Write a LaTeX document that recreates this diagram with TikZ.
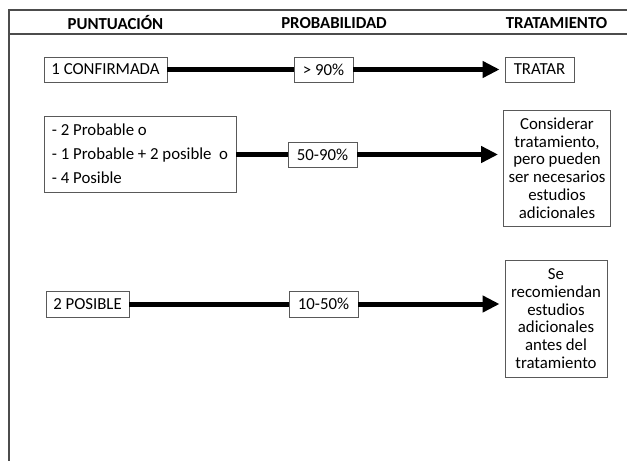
\documentclass[tikz,border=0pt]{standalone}
\usepackage{fontspec}
\setmainfont{Carlito}
\usetikzlibrary{arrows.meta}
\begin{document}
\begin{tikzpicture}[x=1pt,y=-1pt,
  frameline/.style={draw=black!70,line width=1.2pt},
  box/.style={draw=black!65,line width=0.9pt,fill=white,inner sep=0pt,font=\fontsize{16.8}{17.7}\selectfont},
  hdr/.style={font=\fontsize{16.8}{18}\selectfont\bfseries},
  conn/.style={line width=5pt,draw=black},
  arr/.style={conn,-{Triangle[length=17pt,width=16pt]},shorten >=5pt}]
\useasboundingbox (0,0) rectangle (627,461);
% frame
\draw[frameline] (627,10) -- (9,10) -- (9,461);
\draw[frameline] (9,34) -- (627,34);
% headers
\node[hdr] (h1) at (115.5,23) {PUNTUACIÓN};
\node[hdr] (h2) at (334,23) {PROBABILIDAD};
\node[hdr] (h3) at (556.5,23) {TRATAMIENTO};
% row 1
\node[box,minimum width=123pt,minimum height=25pt] (a1) at (105.5,69.5) {1 CONFIRMADA};
\node[box,minimum width=59pt,minimum height=25pt] (b1) at (323.5,69.5) {> 90\%};
\node[box,minimum width=69pt,minimum height=25pt] (c1) at (539.5,69.5) {TRATAR};
\draw[conn] (a1) -- (b1);
\draw[arr] (b1) -- (c1);
% row 2
\node[box,minimum width=192pt,minimum height=76pt,align=left,font=\fontsize{16.8}{24}\selectfont] (a2) at (140,154) {- 2 Probable o\\- 1 Probable + 2 posible~~o\\- 4 Posible};
\node[box,minimum width=69pt,minimum height=25pt] (b2) at (322.5,154.5) {50-90\%};
\node[box,minimum width=107pt,minimum height=116pt,align=center] (c2) at (557,168) {Considerar\\tratamiento,\\pero pueden\\ser necesarios\\estudios\\adicionales};
\draw[conn] (a2.east |- b2.west) -- (b2.west);
\draw[arr] (b2.east) -- (c2.west |- b2.east);
% row 3
\node[box,minimum width=83pt,minimum height=26pt] (a3) at (87.5,304) {2 POSIBLE};
\node[box,minimum width=69pt,minimum height=26pt] (b3) at (323.5,304) {10-50\%};
\node[box,minimum width=102pt,minimum height=117pt,align=center] (c3) at (556,318.5) {Se\\recomiendan\\estudios\\adicionales\\antes del\\tratamiento};
\draw[conn] (a3) -- (b3);
\draw[arr] (b3.east) -- (c3.west |- b3.east);
\end{tikzpicture}
\end{document}
